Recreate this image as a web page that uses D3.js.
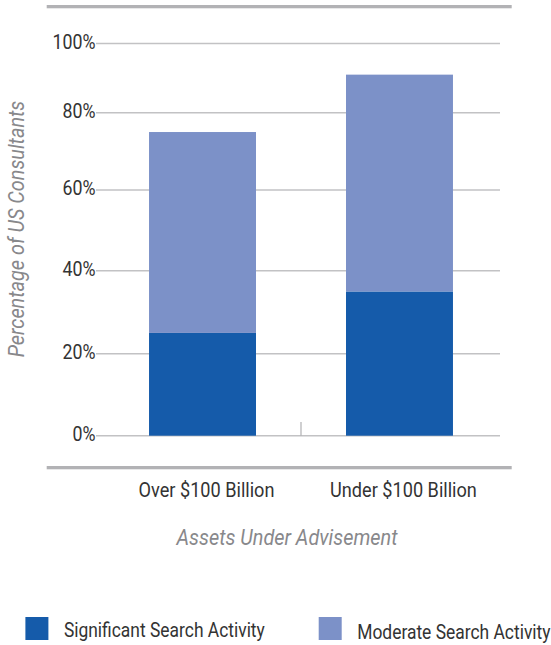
<!DOCTYPE html>
<html>
<head>
<meta charset="utf-8">
<script src="https://cdn.jsdelivr.net/npm/d3@7"></script>
<style>
  html, body { margin: 0; padding: 0; background: #fff; }
  svg { display: block; }
  text { font-family: Roboto, "Liberation Sans", sans-serif; font-weight: 400; }
</style>
</head>
<body>
<svg id="chart" width="551" height="645"></svg>
<script>
const categories = ["Over $100 Billion", "Under $100 Billion"];
const seriesNames = ["Significant Search Activity", "Moderate Search Activity"];
const significant = [25, 35];
const moderate = [50, 56];
const yTicks = [0, 20, 40, 60, 80, 100];
const tickLabels = ["0%", "20%", "40%", "60%", "80%", "100%"];
const colors = ["#155baa", "#7c91c8"];

const svg = d3.select("#chart");

// narrow type: draw text at (x, y) and squeeze it horizontally by k
function placeCondensed(sel, xFn, yFn, k) {
  sel.attr("x", 0).attr("y", 0)
     .attr("transform", (d, i) => `translate(${xFn(d, i)},${yFn(d, i)}) scale(${k},1)`);
}
function widthOf(str, size, style) {
  const t = svg.append("text").attr("font-size", size).attr("font-style", style || "normal").text(str);
  const w = t.node().getComputedTextLength();
  t.remove();
  return w;
}

// value axis; the printed grid is slightly uneven, so each tick gets its own stop
const y = d3.scaleLinear()
  .domain(yTicks)
  .range([435.7, 353.7, 270.7, 190, 112.7, 43.5]);

const gridX0 = 96, gridX1 = 500;
const x = d3.scaleBand()
  .domain(categories)
  .range([99, 503])
  .paddingInner(0.457)
  .paddingOuter(0.254);

// heavy frame rules above and below the plot
svg.append("rect").attr("x", 46.7).attr("y", 5).attr("width", 465).attr("height", 3.3).attr("fill", "#b2b2b5");
svg.append("rect").attr("x", 46.7).attr("y", 466).attr("width", 465).attr("height", 3.3).attr("fill", "#b2b2b5");

// gridlines
svg.append("g").selectAll("line").data(yTicks).join("line")
  .attr("x1", gridX0).attr("x2", gridX1)
  .attr("y1", d => y(d)).attr("y2", d => y(d))
  .attr("stroke", "#c2c2c4").attr("stroke-width", 1.4);

// tick labels
const kTick = 43 / widthOf("100%", 21);
svg.append("g").selectAll("text").data(yTicks).join("text")
  .attr("text-anchor", "end")
  .attr("font-size", 21)
  .attr("fill", "#333")
  .text((d, i) => tickLabels[i])
  .call(placeCondensed, () => 95.5, d => y(d) + 5, kTick);

// separator tick between the two categories
const sepX = x(categories[0]) + x.bandwidth() + (x.step() - x.bandwidth()) / 2;
svg.append("line")
  .attr("x1", sepX).attr("x2", sepX)
  .attr("y1", 422).attr("y2", y(0))
  .attr("stroke", "#b0b0b3").attr("stroke-width", 1.2);

// stacked bars
const rows = categories.map((c, i) => ({ cat: c, sig: significant[i], mod: moderate[i] }));
const stack = d3.stack().keys(["sig", "mod"])(rows);

svg.append("g").selectAll("g").data(stack).join("g")
  .attr("fill", (d, i) => colors[i])
  .selectAll("rect").data(d => d).join("rect")
  .attr("x", d => x(d.data.cat))
  .attr("y", d => y(d[1]))
  .attr("width", x.bandwidth())
  .attr("height", d => y(d[0]) - y(d[1]));

// category labels
const kCat = 136 / widthOf("Over $100 Billion", 20.5);
svg.append("g").selectAll("text").data(categories).join("text")
  .attr("text-anchor", "middle")
  .attr("font-size", 20.5)
  .attr("fill", "#333")
  .text(d => d)
  .call(placeCondensed, d => x(d) + x.bandwidth() / 2 + 4, () => 497.3, kCat);

// axis titles
const kTitle = 221 / widthOf("Assets Under Advisement", 21.5, "italic");
svg.append("text")
  .attr("text-anchor", "middle")
  .attr("font-size", 21.5)
  .attr("font-style", "italic")
  .attr("fill", "#88888b")
  .text("Assets Under Advisement")
  .call(placeCondensed, () => 287, () => 545, kTitle);

svg.append("text")
  .attr("text-anchor", "middle")
  .attr("font-size", 21.5)
  .attr("font-style", "italic")
  .attr("fill", "#88888b")
  .attr("x", 0).attr("y", 0)
  .attr("transform", `translate(23.5,229) rotate(-90) scale(${kTitle},1)`)
  .text("Percentage of US Consultants");

// legend
const kLeg = 201 / widthOf(seriesNames[0], 20.5);
const legendX = [25.4, 318.7];
const legend = svg.append("g").selectAll("g").data(seriesNames).join("g")
  .attr("transform", (d, i) => `translate(${legendX[i]},617)`);
legend.append("rect").attr("width", 23).attr("height", 23).attr("fill", (d, i) => colors[i]);
legend.append("text")
  .attr("font-size", 20.5)
  .attr("fill", "#333")
  .text(d => d)
  .call(placeCondensed, () => 38.5, (d, i) => i === 0 ? 20 : 21.5, kLeg);
</script>
</body>
</html>
